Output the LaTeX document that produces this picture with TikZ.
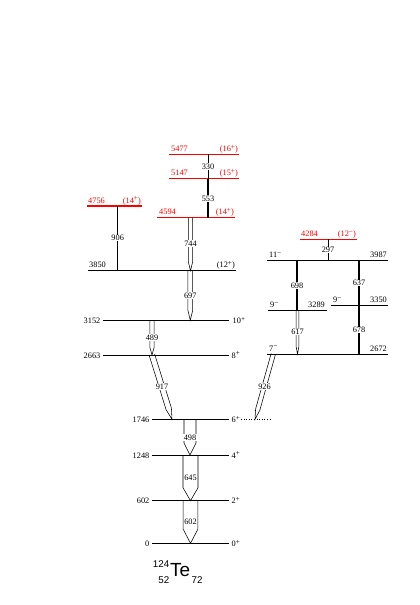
\documentclass[tikz,border=0pt]{standalone}
\usepackage{fontspec}
\setmainfont{Liberation Serif}
\newfontfamily\helv{Liberation Sans}
\usetikzlibrary{calc}
\newcommand\openarrow[4]{%
  \coordinate (hb) at ($(#2)!#4!(#1)$);
  \draw[dbl] ($(#1)!#3!90:(#2)$) -- ($(hb)!#3!90:(#2)$) -- (#2) -- ($(hb)!#3!-90:(#2)$) -- ($(#1)!#3!-90:(#2)$);
}
\newcommand\up[1]{\raisebox{0.55ex}{\fontsize{7.2}{8}\selectfont #1}}
\newcommand\pl{\up{+}}
\newcommand\mi{\up{\textminus}}
\begin{document}
\begin{tikzpicture}[x=1pt,y=-1pt,
  lvl/.style={line width=0.7pt},
  rlvl/.style={line width=1.3pt, red},
  dbl/.style={line width=0.55pt, line join=miter},
  sgl/.style={line width=1.5pt},
  thn/.style={line width=1pt},
  lab/.style={font=\fontsize{8.3}{9}\selectfont, inner sep=1pt},
  rlab/.style={lab, red},
  tlab/.style={lab, fill=white, inner sep=0.6pt},
]
\useasboundingbox (0,0) rectangle (420,605);

% ---------- ground band levels ----------
\coordinate (L0a) at (152,543.3); \coordinate (L0b) at (229,543.3);
\coordinate (L602a) at (152,500.7); \coordinate (L602b) at (229,500.7);
\coordinate (L1248a) at (152,455); \coordinate (L1248b) at (229,455);
\coordinate (L1746a) at (152,419.3); \coordinate (L1746b) at (229,419.3);
\coordinate (L2663a) at (103,355); \coordinate (L2663b) at (229,355);
\coordinate (L3152a) at (103,320.3); \coordinate (L3152b) at (229,320.3);
\coordinate (L3850a) at (88,270.7); \coordinate (L3850b) at (236,270.7);
\foreach \n in {0,602,1248,1746,2663,3152,3850} \draw[lvl] (L\n a) -- (L\n b);

\node[lab, anchor=base east] (e0) at ($(L0a)+(-1.5,3)$) {0};
\node[lab, anchor=base east] (e602) at ($(L602a)+(-1.5,3)$) {602};
\node[lab, anchor=base east] (e1248) at ($(L1248a)+(-1.5,3)$) {1248};
\node[lab, anchor=base east] (e1746) at ($(L1746a)+(-1.5,3)$) {1746};
\node[lab, anchor=base east] (e2663) at ($(L2663a)+(-1.5,3)$) {2663};
\node[lab, anchor=base east] (e3152) at ($(L3152a)+(-1.5,3)$) {3152};
\node[lab, anchor=base west] (e3850) at ($(L3850a)+(0,-3)$) {3850};

\node[lab, anchor=base west] (s0) at ($(L0b)+(1.5,3)$) {0\pl};
\node[lab, anchor=base west] (s602) at ($(L602b)+(1.5,3)$) {2\pl};
\node[lab, anchor=base west] (s1248) at ($(L1248b)+(1.5,3)$) {4\pl};
\node[lab, anchor=base west] (s1746) at ($(L1746b)+(1.5,3)$) {6\pl};
\node[lab, anchor=base west] (s2663) at ($(L2663b)+(1.5,3)$) {8\pl};
\node[lab, anchor=base west] (s3152) at ($(L3152b)+(2.5,3)$) {10\pl};
\node[lab, anchor=base east] (s3850) at ($(L3850b)+(0,-3)$) {(12\pl)};

\coordinate (dotA) at (241,419.3); \coordinate (dotB) at (272,419.3);
\draw[line width=0.6pt, dotted] (dotA) -- (dotB);

% ---------- red levels ----------
\coordinate (L4756a) at (87,206); \coordinate (L4756b) at (142,206);
\coordinate (L4594a) at (157,217.7); \coordinate (L4594b) at (235,217.7);
\coordinate (L5147a) at (169,178.7); \coordinate (L5147b) at (239,178.7);
\coordinate (L5477a) at (169,154.3); \coordinate (L5477b) at (239,154.3);
\coordinate (L4284a) at (300,239.3); \coordinate (L4284b) at (357,239.3);
\foreach \n in {4756,4594,5147,5477,4284} \draw[rlvl] (L\n a) -- (L\n b);

\node[rlab, anchor=base west] (e4756) at ($(L4756a)+(0,-3)$) {4756};
\node[rlab, anchor=base east] (s4756) at ($(L4756b)+(0,-3)$) {(14\pl)};
\node[rlab, anchor=base west] (e4594) at ($(L4594a)+(1,-3)$) {4594};
\node[rlab, anchor=base east] (s4594) at ($(L4594b)+(0,-3)$) {(14\pl)};
\node[rlab, anchor=base west] (e5147) at ($(L5147a)+(1,-3)$) {5147};
\node[rlab, anchor=base east] (s5147) at ($(L5147b)+(0,-3)$) {(15\pl)};
\node[rlab, anchor=base west] (e5477) at ($(L5477a)+(1,-3)$) {5477};
\node[rlab, anchor=base east] (s5477) at ($(L5477b)+(0,-3)$) {(16\pl)};
\node[rlab, anchor=base west] (e4284) at ($(L4284a)+(0,-3)$) {4284};
\node[rlab, anchor=base east] (s4284) at ($(L4284b)+(0,-3)$) {(12\mi)};

% ---------- negative parity band ----------
\coordinate (L2672a) at (267,354); \coordinate (L2672b) at (388,354);
\coordinate (L3289a) at (268,310.7); \coordinate (L3289b) at (327,310.7);
\coordinate (L3350a) at (331,305.7); \coordinate (L3350b) at (388,305.7);
\coordinate (L3987a) at (267,260.7); \coordinate (L3987b) at (388,260.7);
\foreach \n in {2672,3289,3350,3987} \draw[lvl] (L\n a) -- (L\n b);

\node[lab, anchor=base west] (s2672) at ($(L2672a)+(1,-3)$) {7\mi};
\node[lab, anchor=base east] (e2672) at ($(L2672b)+(0,-3)$) {2672};
\node[lab, anchor=base west] (s3289) at ($(L3289a)+(1,-3)$) {9\mi};
\node[lab, anchor=base east] (e3289) at ($(L3289b)+(-1,-3)$) {3289};
\node[lab, anchor=base west] (s3350) at ($(L3350a)+(1,-3)$) {9\mi};
\node[lab, anchor=base east] (e3350) at ($(L3350b)+(0,-3)$) {3350};
\node[lab, anchor=base west] (s3987) at ($(L3987a)+(1,-3)$) {11\mi};
\node[lab, anchor=base east] (e3987) at ($(L3987b)+(0,-3)$) {3987};

% ---------- double (open) arrows ----------
\coordinate (t602a) at (190.5,500.7); \coordinate (t602b) at (190.5,543.3);
\openarrow{t602a}{t602b}{7.3pt}{14pt}
\node[tlab] (g602) at (190.5,522) {602};

\coordinate (t645a) at (190.5,455); \coordinate (t645b) at (190.5,500.7);
\openarrow{t645a}{t645b}{7.5pt}{13pt}
\node[tlab] (g645) at (190.5,478) {645};

\coordinate (t498a) at (190,419.3); \coordinate (t498b) at (190,455);
\openarrow{t498a}{t498b}{6pt}{12pt}
\node[tlab] (g498) at (190,437.5) {498};

\coordinate (t917a) at (152,355); \coordinate (t917b) at (172,419.3);
\openarrow{t917a}{t917b}{2.8pt}{11pt}
\node[tlab] (g917) at (162,386.5) {917};

\coordinate (t489a) at (152,320.3); \coordinate (t489b) at (152,355);
\openarrow{t489a}{t489b}{2.2pt}{8pt}
\node[tlab] (g489) at (152,337.5) {489};

\coordinate (t697a) at (190.3,270.7); \coordinate (t697b) at (190.3,320.3);
\openarrow{t697a}{t697b}{2.4pt}{10pt}
\node[tlab] (g697) at (190.3,295.5) {697};

\coordinate (t744a) at (190.5,217.7); \coordinate (t744b) at (190.5,270.7);
\openarrow{t744a}{t744b}{2.2pt}{9pt}
\node[tlab] (g744) at (190.5,243.5) {744};

\coordinate (t926a) at (273.3,354); \coordinate (t926b) at (255,419.3);
\openarrow{t926a}{t926b}{2.2pt}{10pt}
\node[tlab] (g926) at (264.5,386.5) {926};

\coordinate (t617a) at (297.5,310.7); \coordinate (t617b) at (297.5,354);
\openarrow{t617a}{t617b}{1.3pt}{7pt}
\node[tlab] (g617) at (297.5,332) {617};

% ---------- single-line transitions ----------
\coordinate (t330a) at (208,154.3); \coordinate (t330b) at (208,178.7);
\draw[thn] (t330a) -- (t330b);
\node[tlab] (g330) at (208,166.3) {330};

\coordinate (t553a) at (208,178.7); \coordinate (t553b) at (208,217.7);
\draw[sgl] (t553a) -- (t553b);
\node[tlab] (g553) at (208,198.5) {553};

\coordinate (t906a) at (117.7,206); \coordinate (t906b) at (117.7,270.7);
\draw[thn, line width=1.2pt] (t906a) -- (t906b);
\node[tlab] (g906) at (117.7,238) {906};

\coordinate (t297a) at (328,239.3); \coordinate (t297b) at (328,260.7);
\draw[thn] (t297a) -- (t297b);
\node[tlab] (g297) at (328,250) {297};

\coordinate (t698a) at (297,260.7); \coordinate (t698b) at (297,310.7);
\draw[thn, line width=1.3pt] (t698a) -- (t698b);
\node[tlab] (g698) at (297,285.5) {698};

\coordinate (t637a) at (359,260.7); \coordinate (t637b) at (359,305.7);
\draw[thn, line width=1.1pt] (t637a) -- (t637b);
\node[tlab] (g637) at (359,283) {637};

\coordinate (t678a) at (359,305.7); \coordinate (t678b) at (359,354);
\draw[sgl] (t678a) -- (t678b);
\node[tlab] (g678) at (359,330) {678};

% ---------- nucleus label ----------
\node[inner sep=0, anchor=base west, font=\helv\fontsize{19}{20}\selectfont] (te) at (170,576.7) {Te};
\node[inner sep=0, anchor=base east, font=\helv\fontsize{9.8}{10}\selectfont] (mass) at (169.5,567.2) {124};
\node[inner sep=0, anchor=base east, font=\helv\fontsize{9.8}{10}\selectfont] (zz) at (169.5,583.3) {52};
\node[inner sep=0, anchor=base west, font=\helv\fontsize{9.8}{10}\selectfont] (nn) at (191.5,583.3) {72};
\end{tikzpicture}
\end{document}
